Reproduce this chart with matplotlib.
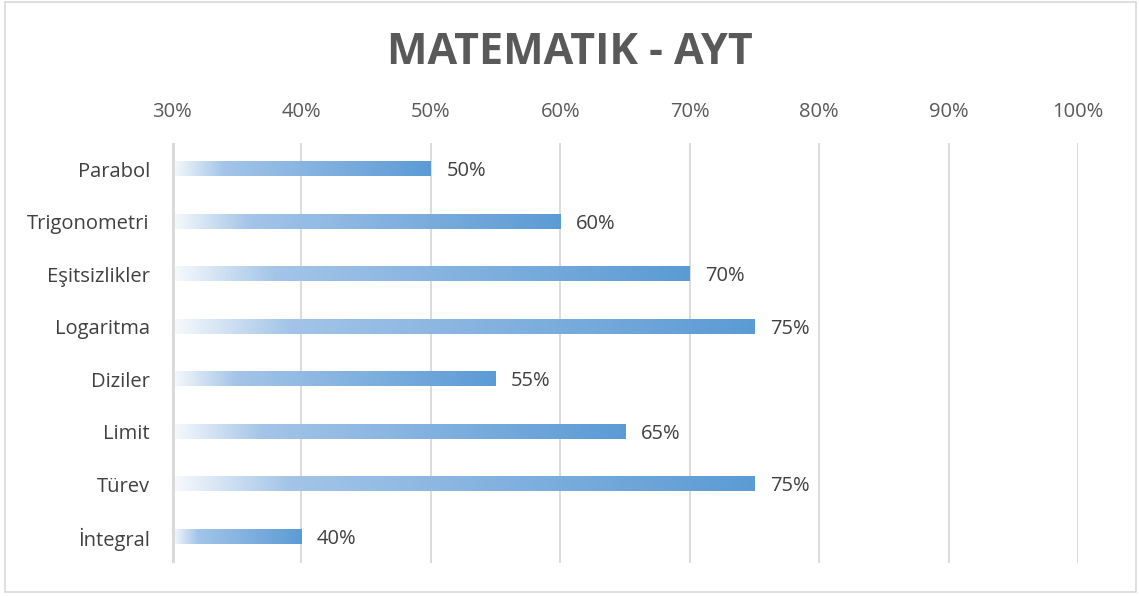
import matplotlib.pyplot as plt
import numpy as np
from matplotlib.colors import LinearSegmentedColormap
from matplotlib.patches import Rectangle

plt.rcParams['font.family'] = ['Open Sans', 'DejaVu Sans']

categories = ['Parabol', 'Trigonometri', 'Eşitsizlikler', 'Logaritma', 'Diziler', 'Limit', 'Türev', 'İntegral']
values = [50, 60, 70, 75, 55, 65, 75, 40]
ticks = [30, 40, 50, 60, 70, 80, 90, 100]
title = 'MATEMATIK - AYT'

# Excel style gradient, white on the left to blue on the right
cmap = LinearSegmentedColormap.from_list('grad', [
    (0.0, (0.97, 0.98, 0.99)),
    (0.2, (0.64, 0.77, 0.91)),
    (1.0, (0.357, 0.608, 0.835)),
])
grad = np.linspace(0, 1, 256).reshape(1, -1)

fig = plt.figure(figsize=(11.39, 5.96), dpi=100)
ax = fig.add_axes([0.151, 0.0554, 0.7955, 0.7047])

h = 0.27
for i, v in enumerate(values):
    ax.imshow(grad, cmap=cmap, aspect='auto', interpolation='bilinear',
              extent=[30, v, i + h / 2, i - h / 2], zorder=3)
    ax.text(v + 1.2, i + 0.04, f'{v}%', va='center', ha='left', fontsize=14.5, color='#404040')
ax.set_xlim(30, 100)
ax.set_ylim(len(categories) - 0.5, -0.5)

ax.set_yticks(range(len(categories)))
ax.set_yticklabels(categories, fontsize=14.5, color='#404040')
ax.set_xticks(ticks)
ax.set_xticklabels([f'{t}%' for t in ticks], fontsize=14.5, color='#595959')
ax.xaxis.tick_top()
ax.tick_params(axis='y', length=0, pad=16)
ax.tick_params(axis='x', length=0, pad=15)

for t in ticks[1:]:
    ax.axvline(t, color='#D9D9D9', lw=1.3, zorder=1)
ax.axvline(30, color='#D9D9D9', lw=3.5, zorder=4)
for s in ax.spines.values():
    s.set_visible(False)

fig.text(0.5, 0.912, title, ha='center', va='center', fontsize=31,
         fontweight='bold', color='#595959')
fig.patches.append(Rectangle((0.004, 0.006), 0.993, 0.99, transform=fig.transFigure,
                             fill=False, edgecolor='#D9D9D9', lw=1.2))

fig.savefig('out.png', dpi=100)
